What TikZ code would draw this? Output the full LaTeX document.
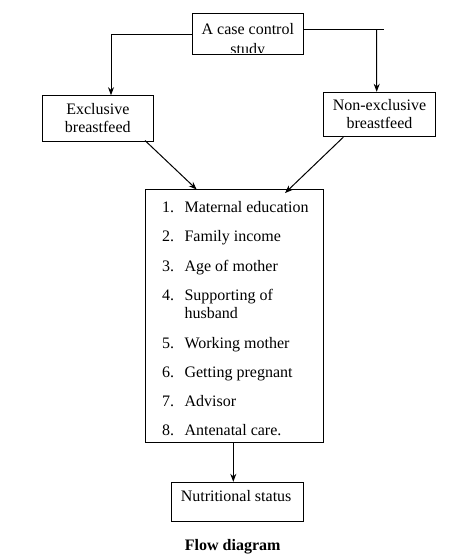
\documentclass[tikz,border=0pt]{standalone}
\usepackage{fontspec}
\setmainfont{Liberation Serif}
\usetikzlibrary{calc,arrows.meta}
\begin{document}
\begin{tikzpicture}[x=0.75pt,y=-0.75pt,
  every node/.style={font=\fontsize{12}{14}\selectfont, inner sep=0pt},
  box/.style={draw, line width=0.75pt, rectangle},
  conn/.style={line width=0.75pt},
  arr/.style={line width=0.75pt, -{Stealth[length=6pt,width=4.5pt]}},
  txt/.style={anchor=base},
  num/.style={anchor=base east},
  item/.style={anchor=base west}]
\useasboundingbox (0,0) rectangle (465,559);
% boxes
\node[box, minimum width=111*0.75pt, minimum height=41*0.75pt] (top) at (247.8,34.5) {};
\node[box, minimum width=111*0.75pt, minimum height=46*0.75pt] (left) at (97.8,118.7) {};
\node[box, minimum width=112.4*0.75pt, minimum height=44.4*0.75pt] (right) at (379.5,114.5) {};
\node[box, minimum width=177.6*0.75pt, minimum height=253*0.75pt] (mid) at (234.5,315.8) {};
\node[box, minimum width=131.6*0.75pt, minimum height=39.4*0.75pt] (nutri) at (237.5,502) {};
% top box text
\node[txt] (t1) at (247.8,34.3) {A case control};
\begin{scope}
  \clip (193,15) rectangle (303,52.3);
  \node[txt] (t2) at (247.8,55) {study};
\end{scope}
% left box text
\node[txt] (l1) at (97.8,115) {Exclusive};
\node[txt] (l2) at (97.8,132.3) {breastfeed};
% right box text
\node[txt] (r1) at (379.5,111) {Non-exclusive};
\node[txt] (r2) at (379.5,128.3) {breastfeed};
% list
\node[num] (n1) at (174.3,212.3) {1.}; \node[item] (i1) at (184.3,212.3) {Maternal education};
\node[num] (n2) at (174.3,241.8) {2.}; \node[item] (i2) at (184.3,241.8) {Family income};
\node[num] (n3) at (174.3,271.3) {3.}; \node[item] (i3) at (184.3,271.3) {Age of mother};
\node[num] (n4) at (174.3,300.7) {4.}; \node[item] (i4) at (184.3,300.7) {Supporting of};
\node[item] (i4b) at (184.3,318.3) {husband};
\node[num] (n5) at (174.3,348.3) {5.}; \node[item] (i5) at (184.3,348.3) {Working mother};
\node[num] (n6) at (174.3,377.5) {6.}; \node[item] (i6) at (184.3,377.5) {Getting pregnant};
\node[num] (n7) at (174.3,406.7) {7.}; \node[item] (i7) at (184.3,406.7) {Advisor};
\node[num] (n8) at (174.3,435.8) {8.}; \node[item] (i8) at (184.3,435.8) {Antenatal care.};
% nutrition text
\node[anchor=base west] (nt) at (180.5,501.7) {Nutritional status};
% caption
\node[txt, font=\fontsize{12}{14}\selectfont\bfseries] (cap) at (232.7,550) {Flow diagram};
% connectors
\draw[arr] (top.west) -| ($(left.north)+(13.2,0)$);
\coordinate (stub) at (384.3,30);
\draw[conn] ($(top.east)+(0,-4.5)$) -- (stub);
\draw[arr] (376.7,30) -- ($(right.north)+(-2.8,0)$);
\draw[arr] ($(left.south)+(47.2,-1.7)$) -- ($(mid.north)+(-37.8,0.7)$);
\draw[arr] ($(right.south)+(-36.2,0)$) -- ($(mid.north)+(50.5,4.3)$);
\draw[arr] ($(mid.south)+(-1.2,0)$) -- ($(nutri.north)+(-4.2,0)$);
\end{tikzpicture}
\end{document}
